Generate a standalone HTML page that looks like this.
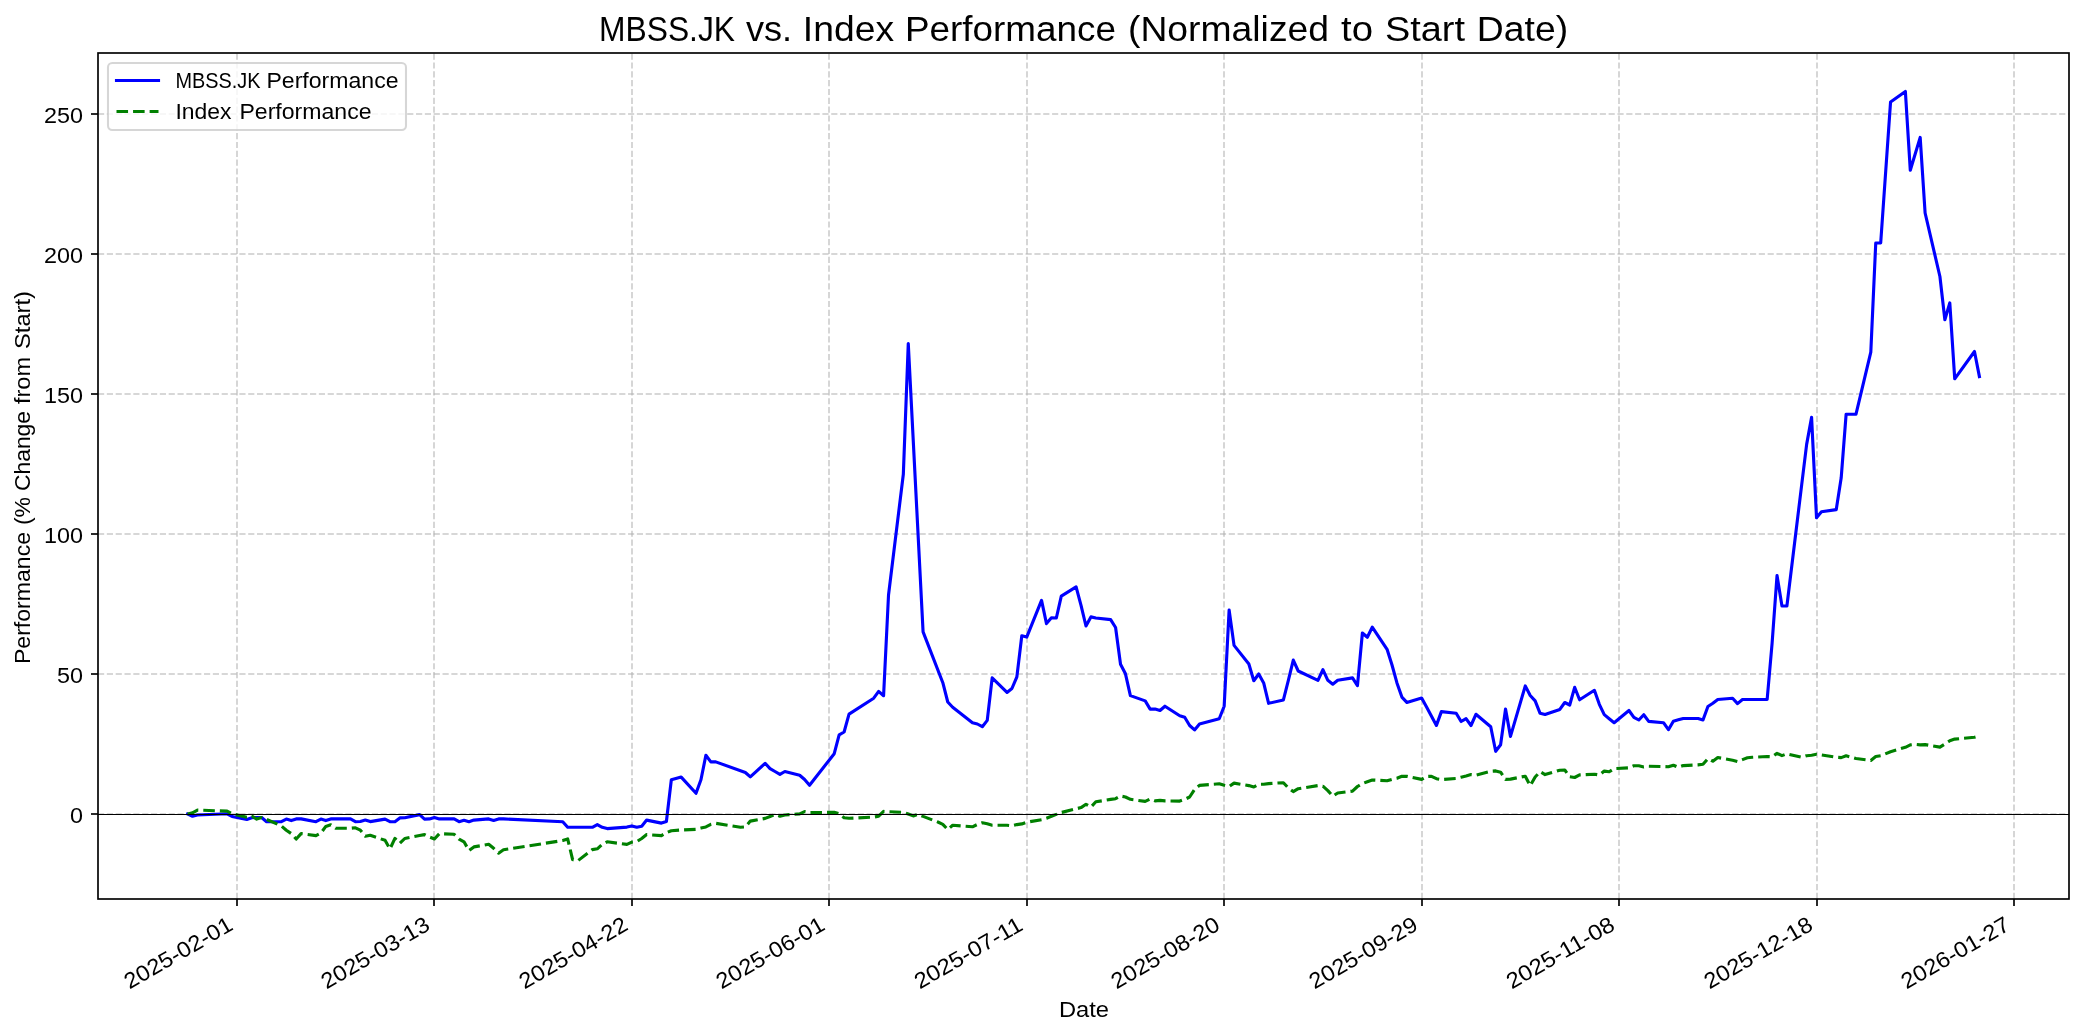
<!DOCTYPE html>
<html lang="en"><head><meta charset="utf-8"><title>MBSS.JK vs. Index Performance</title>
<style>html,body{margin:0;padding:0;background:#fff;}body{width:2084px;height:1035px;overflow:hidden;font-family:"Liberation Sans",sans-serif;}svg{display:block;will-change:transform;}text{font-family:"Liberation Sans",sans-serif;fill:#000;}</style></head><body>
<svg width="2084" height="1035" viewBox="0 0 2084 1035">
<rect x="0" y="0" width="2084" height="1035" fill="#ffffff"/>
<g stroke="#b0b0b0" stroke-opacity="0.615" stroke-width="1.667" stroke-dasharray="6.167 2.667" fill="none">
<path d="M237.0 899.0 V53.0"/>
<path d="M434.0 899.0 V53.0"/>
<path d="M632.0 899.0 V53.0"/>
<path d="M829.0 899.0 V53.0"/>
<path d="M1027.0 899.0 V53.0"/>
<path d="M1224.0 899.0 V53.0"/>
<path d="M1422.0 899.0 V53.0"/>
<path d="M1619.0 899.0 V53.0"/>
<path d="M1817.0 899.0 V53.0"/>
<path d="M2014.0 899.0 V53.0"/>
</g>
<g stroke="#b0b0b0" stroke-opacity="0.667" stroke-width="1.667" stroke-dasharray="6.167 2.667" fill="none">
<path d="M98.0 814.0 H2069.0"/>
<path d="M98.0 674.0 H2069.0"/>
<path d="M98.0 534.0 H2069.0"/>
<path d="M98.0 394.0 H2069.0"/>
<path d="M98.0 254.0 H2069.0"/>
<path d="M98.0 114.0 H2069.0"/>
</g>
<defs><clipPath id="ax"><rect x="98.0" y="53.0" width="1971.0" height="846.0"/></clipPath></defs>
<g clip-path="url(#ax)" fill="none">
<path d="M187.59 814.00 L192.53 816.20 L197.46 815.00 L227.08 813.80 L232.02 816.50 L246.82 819.40 L251.76 817.70 L256.70 817.50 L261.63 817.50 L266.57 821.70 L281.38 821.70 L286.31 819.10 L291.25 820.60 L296.19 818.90 L301.12 818.90 L315.93 821.70 L320.87 819.10 L325.80 820.60 L330.74 818.90 L335.67 818.90 L350.48 818.90 L355.42 821.70 L360.36 821.50 L365.29 820.10 L370.23 821.60 L385.04 819.10 L389.97 821.70 L394.91 821.70 L399.84 817.90 L404.78 817.70 L419.59 814.60 L424.52 819.10 L429.46 818.90 L434.40 817.50 L439.33 818.90 L454.14 818.90 L459.08 821.70 L464.01 820.30 L468.95 821.70 L473.89 820.10 L488.69 818.90 L493.63 820.40 L498.57 818.90 L503.50 818.90 L562.74 821.70 L567.67 827.30 L572.61 827.30 L577.55 827.30 L592.35 827.30 L597.29 824.60 L602.23 827.30 L607.16 828.60 L626.91 827.10 L631.84 825.90 L636.78 827.30 L641.72 826.20 L646.65 820.10 L661.46 823.10 L666.40 821.50 L671.33 779.80 L681.20 777.10 L696.01 793.30 L700.95 779.80 L705.89 755.30 L710.82 761.90 L715.76 761.90 L745.37 772.50 L750.31 776.90 L765.12 763.30 L770.05 768.60 L774.99 771.50 L779.93 774.40 L784.86 771.50 L799.67 775.20 L804.61 779.50 L809.54 785.30 L834.22 753.70 L839.16 734.80 L844.10 732.00 L849.03 714.10 L873.71 698.20 L878.65 691.40 L883.59 695.70 L888.52 595.00 L903.33 474.30 L908.27 343.60 L923.08 631.90 L942.82 682.70 L947.76 702.00 L952.69 707.30 L972.44 722.80 L977.37 724.00 L982.31 726.70 L987.25 720.40 L992.18 677.90 L1006.99 692.40 L1011.93 688.50 L1016.86 676.90 L1021.80 635.70 L1026.73 637.10 L1041.54 600.40 L1046.48 623.60 L1051.42 617.80 L1056.35 618.00 L1061.29 596.10 L1076.10 586.90 L1081.03 605.30 L1085.97 626.00 L1090.90 616.90 L1095.84 618.00 L1110.65 619.60 L1115.58 627.50 L1120.52 664.20 L1125.46 673.80 L1130.39 695.60 L1145.20 700.90 L1150.14 709.10 L1155.07 709.10 L1160.01 710.50 L1164.95 706.20 L1179.75 715.80 L1184.69 717.30 L1189.63 725.50 L1194.56 729.90 L1199.50 723.90 L1219.24 718.70 L1224.18 706.20 L1229.12 610.00 L1234.05 645.40 L1248.86 664.00 L1253.80 680.70 L1258.73 674.00 L1263.67 682.90 L1268.61 703.30 L1283.41 699.90 L1288.35 680.30 L1293.29 660.10 L1298.22 671.00 L1317.97 680.30 L1322.90 669.70 L1327.84 680.30 L1332.78 684.20 L1337.71 680.30 L1352.52 677.90 L1357.46 685.70 L1362.39 633.00 L1367.33 637.30 L1372.26 627.20 L1387.07 649.30 L1392.01 665.00 L1396.95 682.90 L1401.88 697.10 L1406.82 702.40 L1421.63 698.00 L1426.56 707.00 L1431.50 716.30 L1436.43 725.40 L1441.37 711.60 L1456.18 713.30 L1461.11 721.50 L1466.05 718.60 L1470.99 725.50 L1475.92 714.30 L1490.73 726.80 L1495.67 751.30 L1500.60 744.70 L1505.54 709.00 L1510.48 736.40 L1525.28 685.90 L1530.22 695.50 L1535.16 700.90 L1540.09 713.30 L1545.03 714.50 L1559.84 709.40 L1564.77 702.50 L1569.71 705.00 L1574.65 687.30 L1579.58 699.80 L1594.39 690.30 L1599.33 704.30 L1604.26 714.60 L1609.20 718.70 L1614.14 722.70 L1628.94 710.50 L1633.88 717.30 L1638.82 720.00 L1643.75 714.70 L1648.69 721.40 L1663.50 722.70 L1668.43 729.70 L1673.37 721.20 L1678.31 719.80 L1683.24 718.50 L1698.05 718.50 L1702.99 720.00 L1707.92 706.50 L1712.86 703.30 L1717.79 699.50 L1732.60 698.20 L1737.54 703.60 L1742.48 699.50 L1747.41 699.50 L1752.35 699.50 L1767.16 699.40 L1772.09 643.30 L1777.03 575.60 L1781.96 606.00 L1786.90 606.00 L1801.71 484.60 L1806.64 444.40 L1811.58 417.40 L1816.52 517.80 L1821.45 511.80 L1836.26 509.60 L1841.20 477.80 L1846.13 414.20 L1856.01 414.20 L1870.81 352.10 L1875.75 243.00 L1880.69 243.00 L1890.56 101.90 L1905.37 91.40 L1910.30 170.30 L1920.18 137.40 L1925.11 213.00 L1939.92 276.50 L1944.86 319.70 L1949.79 302.90 L1954.73 378.80 L1974.47 351.50 L1979.41 376.60" stroke="#0000ff" stroke-width="3.125" stroke-linejoin="round" stroke-linecap="square"/>
<path d="M187.59 814.00 L192.53 812.90 L197.46 810.10 L227.08 811.10 L232.02 813.80 L246.82 817.20 L251.76 816.00 L256.70 819.10 L261.63 817.50 L266.57 819.40 L281.38 825.90 L286.31 830.20 L291.25 833.60 L296.19 839.00 L301.12 833.60 L315.93 835.60 L320.87 833.10 L325.80 826.40 L330.74 824.70 L335.67 828.30 L350.48 828.30 L355.42 827.80 L360.36 830.20 L365.29 836.30 L370.23 835.30 L385.04 840.30 L389.97 848.90 L394.91 838.40 L399.84 843.30 L404.78 838.50 L419.59 835.50 L424.52 834.60 L429.46 837.05 L434.40 839.00 L439.33 833.70 L454.14 834.30 L459.08 839.10 L464.01 841.80 L468.95 850.50 L473.89 846.90 L488.69 844.30 L493.63 848.30 L498.57 853.20 L503.50 849.80 L562.74 840.50 L567.67 838.90 L572.61 859.60 L577.55 861.00 L592.35 849.60 L597.29 848.80 L602.23 844.40 L607.16 841.80 L626.91 844.40 L631.84 842.10 L636.78 841.60 L641.72 838.50 L646.65 834.60 L661.46 835.60 L666.40 832.70 L671.33 830.70 L681.20 830.00 L696.01 829.30 L700.95 828.10 L705.89 826.90 L710.82 824.40 L715.76 823.30 L740.44 827.30 L745.37 826.90 L750.31 821.10 L765.12 818.40 L770.05 816.50 L774.99 814.50 L779.93 816.20 L784.86 815.00 L799.67 813.90 L804.61 811.60 L809.54 812.60 L834.22 812.30 L839.16 813.70 L844.10 817.80 L849.03 818.30 L873.71 817.10 L878.65 816.20 L883.59 811.40 L888.52 811.70 L903.33 812.30 L908.27 814.00 L913.20 815.90 L918.14 814.30 L923.08 816.40 L937.88 822.00 L942.82 824.30 L947.76 829.50 L952.69 825.30 L972.44 826.80 L977.37 824.40 L982.31 822.70 L987.25 823.80 L992.18 825.30 L1006.99 825.30 L1011.93 825.80 L1016.86 824.60 L1021.80 823.90 L1026.73 822.20 L1041.54 819.70 L1046.48 818.30 L1051.42 816.30 L1056.35 814.40 L1061.29 812.50 L1076.10 808.80 L1081.03 807.60 L1085.97 804.30 L1090.90 807.10 L1095.84 801.80 L1110.65 799.40 L1115.58 798.70 L1120.52 796.00 L1125.46 797.00 L1130.39 799.30 L1145.20 801.40 L1150.14 799.10 L1155.07 800.90 L1160.01 800.40 L1164.95 800.90 L1179.75 801.10 L1184.69 799.40 L1189.63 797.00 L1194.56 789.50 L1199.50 785.40 L1219.24 783.80 L1224.18 785.30 L1229.12 786.50 L1234.05 783.10 L1248.86 785.60 L1253.80 787.00 L1258.73 784.30 L1263.67 784.30 L1268.61 783.60 L1283.41 782.70 L1288.35 788.00 L1293.29 791.60 L1298.22 788.70 L1317.97 785.60 L1322.90 786.20 L1327.84 790.60 L1332.78 796.20 L1337.71 793.00 L1352.52 791.10 L1357.46 786.50 L1362.39 783.60 L1367.33 781.70 L1372.26 780.00 L1387.07 780.70 L1392.01 779.30 L1396.95 778.30 L1401.88 776.30 L1406.82 776.40 L1421.63 779.40 L1426.56 776.50 L1431.50 776.30 L1436.43 778.70 L1441.37 779.60 L1456.18 778.50 L1461.11 777.20 L1466.05 776.00 L1470.99 774.60 L1475.92 775.10 L1490.73 771.20 L1495.67 770.90 L1500.60 772.20 L1505.54 779.40 L1510.48 779.10 L1525.28 776.20 L1530.22 785.70 L1535.16 777.00 L1540.09 771.70 L1545.03 774.60 L1559.84 770.20 L1564.77 770.00 L1569.71 776.80 L1574.65 777.50 L1579.58 774.90 L1594.39 774.20 L1599.33 775.00 L1604.26 771.10 L1609.20 771.80 L1614.14 768.60 L1628.94 767.80 L1633.88 765.70 L1638.82 765.80 L1643.75 767.00 L1648.69 766.20 L1663.50 766.60 L1668.43 766.80 L1673.37 765.20 L1678.31 767.30 L1683.24 765.60 L1698.05 764.90 L1702.99 764.30 L1707.92 758.60 L1712.86 761.20 L1717.79 757.50 L1732.60 760.20 L1737.54 761.50 L1742.48 759.60 L1747.41 757.80 L1752.35 757.30 L1767.16 756.50 L1772.09 756.70 L1777.03 753.40 L1781.96 755.60 L1786.90 753.80 L1801.71 757.30 L1806.64 755.70 L1811.58 755.20 L1816.52 754.30 L1821.45 754.90 L1836.26 757.30 L1841.20 757.60 L1846.13 755.80 L1856.01 758.50 L1870.81 760.40 L1875.75 756.50 L1880.69 755.70 L1890.56 751.70 L1905.37 747.30 L1910.30 744.90 L1915.24 744.40 L1920.18 744.90 L1925.11 744.60 L1939.92 747.10 L1944.86 744.00 L1949.79 740.80 L1954.73 739.10 L1974.47 737.20 L1979.41 735.90" stroke="#008000" stroke-width="3.125" stroke-linejoin="round" stroke-linecap="butt" stroke-dasharray="11.5625 5"/>
<path d="M98.0 814.5 H2069.0" stroke="#000000" stroke-width="1.0417"/>
</g>
<g stroke="#000000" stroke-width="1.667" fill="none">
<path d="M237.0 899.0 v7.0"/>
<path d="M434.0 899.0 v7.0"/>
<path d="M632.0 899.0 v7.0"/>
<path d="M829.0 899.0 v7.0"/>
<path d="M1027.0 899.0 v7.0"/>
<path d="M1224.0 899.0 v7.0"/>
<path d="M1422.0 899.0 v7.0"/>
<path d="M1619.0 899.0 v7.0"/>
<path d="M1817.0 899.0 v7.0"/>
<path d="M2014.0 899.0 v7.0"/>
<path d="M98.0 814.0 h-7.0"/>
<path d="M98.0 674.0 h-7.0"/>
<path d="M98.0 534.0 h-7.0"/>
<path d="M98.0 394.0 h-7.0"/>
<path d="M98.0 254.0 h-7.0"/>
<path d="M98.0 114.0 h-7.0"/>
<rect x="98.0" y="53.0" width="1971.0" height="846.0" stroke-linejoin="miter"/>
</g>
<rect x="108.00" y="63.00" width="298.00" height="67.00" rx="4.20" ry="4.20" fill="#ffffff" fill-opacity="0.8" stroke="#cccccc" stroke-opacity="0.8" stroke-width="2.083"/>
<path d="M116.50 80.50 H158.50" stroke="#0000ff" stroke-width="3.125" stroke-linecap="square" fill="none"/>
<path d="M116.50 111.50 H158.50" stroke="#008000" stroke-width="3.125" stroke-dasharray="11.5625 5" fill="none"/>
<text y="88.00" font-size="22.10"><tspan x="175.40" textLength="85.00" lengthAdjust="spacingAndGlyphs">MBSS.JK</tspan> <tspan x="266.48" textLength="132.05" lengthAdjust="spacingAndGlyphs">Performance</tspan></text>
<text y="118.75" font-size="22.10"><tspan x="175.47" textLength="56.04" lengthAdjust="spacingAndGlyphs">Index</tspan> <tspan x="239.48" textLength="132.05" lengthAdjust="spacingAndGlyphs">Performance</tspan></text>
<text y="40.65" font-size="35.30"><tspan x="599.00" textLength="136.00" lengthAdjust="spacingAndGlyphs">MBSS.JK</tspan> <tspan x="746.00" textLength="46.15" lengthAdjust="spacingAndGlyphs">vs.</tspan> <tspan x="802.89" textLength="91.14" lengthAdjust="spacingAndGlyphs">Index</tspan> <tspan x="904.97" textLength="211.04" lengthAdjust="spacingAndGlyphs">Performance</tspan> <tspan x="1127.97" textLength="201.06" lengthAdjust="spacingAndGlyphs">(Normalized</tspan> <tspan x="1341.00" textLength="32.00" lengthAdjust="spacingAndGlyphs">to</tspan> <tspan x="1385.00" textLength="80.00" lengthAdjust="spacingAndGlyphs">Start</tspan> <tspan x="1476.89" textLength="91.18" lengthAdjust="spacingAndGlyphs">Date)</tspan></text>
<text x="83.00" y="822.85" font-size="22.10" text-anchor="end" textLength="13.00" lengthAdjust="spacingAndGlyphs">0</text>
<text x="83.00" y="682.85" font-size="22.10" text-anchor="end" textLength="26.00" lengthAdjust="spacingAndGlyphs">50</text>
<text x="83.00" y="542.85" font-size="22.10" text-anchor="end" textLength="39.00" lengthAdjust="spacingAndGlyphs">100</text>
<text x="83.00" y="402.85" font-size="22.10" text-anchor="end" textLength="39.00" lengthAdjust="spacingAndGlyphs">150</text>
<text x="83.00" y="262.85" font-size="22.10" text-anchor="end" textLength="39.00" lengthAdjust="spacingAndGlyphs">200</text>
<text x="83.00" y="122.85" font-size="22.10" text-anchor="end" textLength="39.00" lengthAdjust="spacingAndGlyphs">250</text>
<text transform="translate(234.40 929.00) rotate(-30)" font-size="22.10" text-anchor="end" textLength="121.00" lengthAdjust="spacingAndGlyphs">2025-02-01</text>
<text transform="translate(431.40 929.00) rotate(-30)" font-size="22.10" text-anchor="end" textLength="121.00" lengthAdjust="spacingAndGlyphs">2025-03-13</text>
<text transform="translate(629.40 929.00) rotate(-30)" font-size="22.10" text-anchor="end" textLength="121.00" lengthAdjust="spacingAndGlyphs">2025-04-22</text>
<text transform="translate(826.40 929.00) rotate(-30)" font-size="22.10" text-anchor="end" textLength="121.00" lengthAdjust="spacingAndGlyphs">2025-06-01</text>
<text transform="translate(1024.40 929.00) rotate(-30)" font-size="22.10" text-anchor="end" textLength="121.00" lengthAdjust="spacingAndGlyphs">2025-07-11</text>
<text transform="translate(1221.40 929.00) rotate(-30)" font-size="22.10" text-anchor="end" textLength="121.00" lengthAdjust="spacingAndGlyphs">2025-08-20</text>
<text transform="translate(1419.40 929.00) rotate(-30)" font-size="22.10" text-anchor="end" textLength="121.00" lengthAdjust="spacingAndGlyphs">2025-09-29</text>
<text transform="translate(1616.40 929.00) rotate(-30)" font-size="22.10" text-anchor="end" textLength="121.00" lengthAdjust="spacingAndGlyphs">2025-11-08</text>
<text transform="translate(1814.40 929.00) rotate(-30)" font-size="22.10" text-anchor="end" textLength="121.00" lengthAdjust="spacingAndGlyphs">2025-12-18</text>
<text transform="translate(2011.40 929.00) rotate(-30)" font-size="22.10" text-anchor="end" textLength="121.00" lengthAdjust="spacingAndGlyphs">2026-01-27</text>
<text y="1016.50" font-size="22.10"><tspan x="1058.91" textLength="50.13" lengthAdjust="spacingAndGlyphs">Date</tspan></text>
<text transform="translate(29.50 0) rotate(-90)" y="0" font-size="22.10"><tspan x="-664.05" textLength="132.05" lengthAdjust="spacingAndGlyphs">Performance</tspan> <tspan x="-525.08" textLength="28.08" lengthAdjust="spacingAndGlyphs">(%</tspan> <tspan x="-491.03" textLength="80.03" lengthAdjust="spacingAndGlyphs">Change</tspan> <tspan x="-404.02" textLength="47.02" lengthAdjust="spacingAndGlyphs">from</tspan> <tspan x="-349.04" textLength="58.04" lengthAdjust="spacingAndGlyphs">Start)</tspan></text>
</svg></body></html>
